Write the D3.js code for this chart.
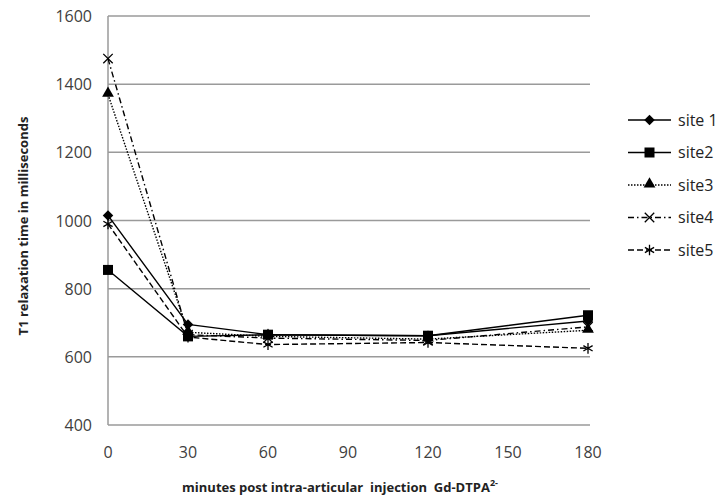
<!DOCTYPE html>
<html>
<head>
<meta charset="utf-8">
<script src="https://cdn.jsdelivr.net/npm/d3@7"></script>
<style>
  body { margin: 0; background: #fff; }
  text { font-family: "Open Sans", "DejaVu Sans", sans-serif; }
</style>
</head>
<body>
<script>
// data
var minutes = [0, 30, 60, 120, 180];
var site1 = [1015, 695, 665, 662, 705];
var site2 = [855, 660, 665, 662, 722];
var site3 = [1370, 672, 660, 652, 678];
var site4 = [1475, 665, 655, 648, 688];
var site5 = [990, 658, 636, 642, 625];
var yTicks = [400, 600, 800, 1000, 1200, 1400, 1600];
var xTicks = [0, 30, 60, 90, 120, 150, 180];

var series = [
  { name: 'site 1', values: site1, dash: null, symbol: 'diamond' },
  { name: 'site2', values: site2, dash: null, symbol: 'square' },
  { name: 'site3', values: site3, dash: '1.5,1.5', symbol: 'triangle' },
  { name: 'site4', values: site4, dash: '6,3,1.5,3', symbol: 'cross' },
  { name: 'site5', values: site5, dash: '6,3', symbol: 'asterisk' }
];

var width = 719, height = 498;
var svg = d3.select('body').append('svg').attr('width', width).attr('height', height);

var x = d3.scaleLinear().domain([0, 180]).range([108, 588]);
var y = d3.scaleLinear().domain([400, 1600]).range([425, 16]);

// gridlines
svg.append('g').selectAll('line')
  .data(yTicks)
  .enter().append('line')
  .attr('x1', x(0)).attr('x2', x(180) + 2)
  .attr('y1', function (d) { return y(d); })
  .attr('y2', function (d) { return y(d); })
  .attr('stroke', '#9a9a9a')
  .attr('stroke-width', 1.5);

// y axis line
svg.append('line')
  .attr('x1', x(0)).attr('x2', x(0))
  .attr('y1', y(1600)).attr('y2', y(400))
  .attr('stroke', '#9a9a9a').attr('stroke-width', 1.5);

// tick labels
svg.append('g').selectAll('text')
  .data(yTicks)
  .enter().append('text')
  .attr('x', 92)
  .attr('y', function (d) { return y(d) + 6; })
  .attr('text-anchor', 'end')
  .attr('font-size', 16)
  .attr('fill', '#404040')
  .text(function (d) { return d; });

svg.append('g').selectAll('text')
  .data(xTicks)
  .enter().append('text')
  .attr('x', function (d) { return x(d); })
  .attr('y', 458)
  .attr('text-anchor', 'middle')
  .attr('font-size', 16)
  .attr('fill', '#404040')
  .text(function (d) { return d; });

// axis titles
svg.append('text')
  .attr('transform', 'translate(28,' + 226 + ') rotate(-90)')
  .attr('text-anchor', 'middle')
  .attr('font-size', 13)
  .attr('font-weight', 'bold')
  .attr('fill', '#222')
  .text('T1 relaxation  time in milliseconds');

var xt = svg.append('text')
  .attr('x', 340)
  .attr('y', 492)
  .attr('text-anchor', 'middle')
  .attr('font-size', 13)
  .attr('font-weight', 'bold')
  .attr('fill', '#222')
  .attr('xml:space', 'preserve')
  .text('minutes post intra-articular  injection  Gd-DTPA');
xt.append('tspan').attr('dy', -6).attr('font-size', 9).text('2-');

function drawMarker(g, type, cx, cy) {
  if (type === 'diamond') {
    g.append('path').attr('d', d3.symbol(d3.symbolDiamond2, 70)())
      .attr('transform', 'translate(' + cx + ',' + cy + ')').attr('fill', '#000');
  } else if (type === 'square') {
    g.append('rect').attr('x', cx - 5).attr('y', cy - 5).attr('width', 10).attr('height', 10).attr('fill', '#000');
  } else if (type === 'triangle') {
    g.append('path').attr('d', d3.symbol(d3.symbolTriangle, 60)())
      .attr('transform', 'translate(' + cx + ',' + (cy - 1) + ')').attr('fill', '#000');
  } else if (type === 'cross') {
    g.append('path').attr('d', d3.symbol(d3.symbolX, 60)())
      .attr('transform', 'translate(' + cx + ',' + cy + ')')
      .attr('stroke', '#000').attr('stroke-width', 1.3).attr('fill', 'none');
  } else {
    g.append('path').attr('d', d3.symbol(d3.symbolAsterisk, 80)())
      .attr('transform', 'translate(' + cx + ',' + cy + ')')
      .attr('stroke', '#000').attr('stroke-width', 1.3).attr('fill', 'none');
  }
}

var line = d3.line()
  .x(function (d, i) { return x(minutes[i]); })
  .y(function (d) { return y(d); });

series.forEach(function (s) {
  var g = svg.append('g');
  g.append('path')
    .attr('d', line(s.values))
    .attr('fill', 'none')
    .attr('stroke', '#000')
    .attr('stroke-width', 1.4)
    .attr('stroke-dasharray', s.dash);
  s.values.forEach(function (v, i) {
    drawMarker(g, s.symbol, x(minutes[i]), y(v));
  });
});

// legend
var legend = svg.append('g');
series.forEach(function (s, i) {
  var ly = 120 + i * 32.5;
  legend.append('line')
    .attr('x1', 628).attr('x2', 671)
    .attr('y1', ly).attr('y2', ly)
    .attr('stroke', '#000').attr('stroke-width', 1.4)
    .attr('stroke-dasharray', s.dash);
  drawMarker(legend, s.symbol, 649.5, ly);
  legend.append('text')
    .attr('x', 678).attr('y', ly + 5.5)
    .attr('font-size', 16)
    .attr('fill', '#222')
    .text(s.name);
});
</script>
</body>
</html>
